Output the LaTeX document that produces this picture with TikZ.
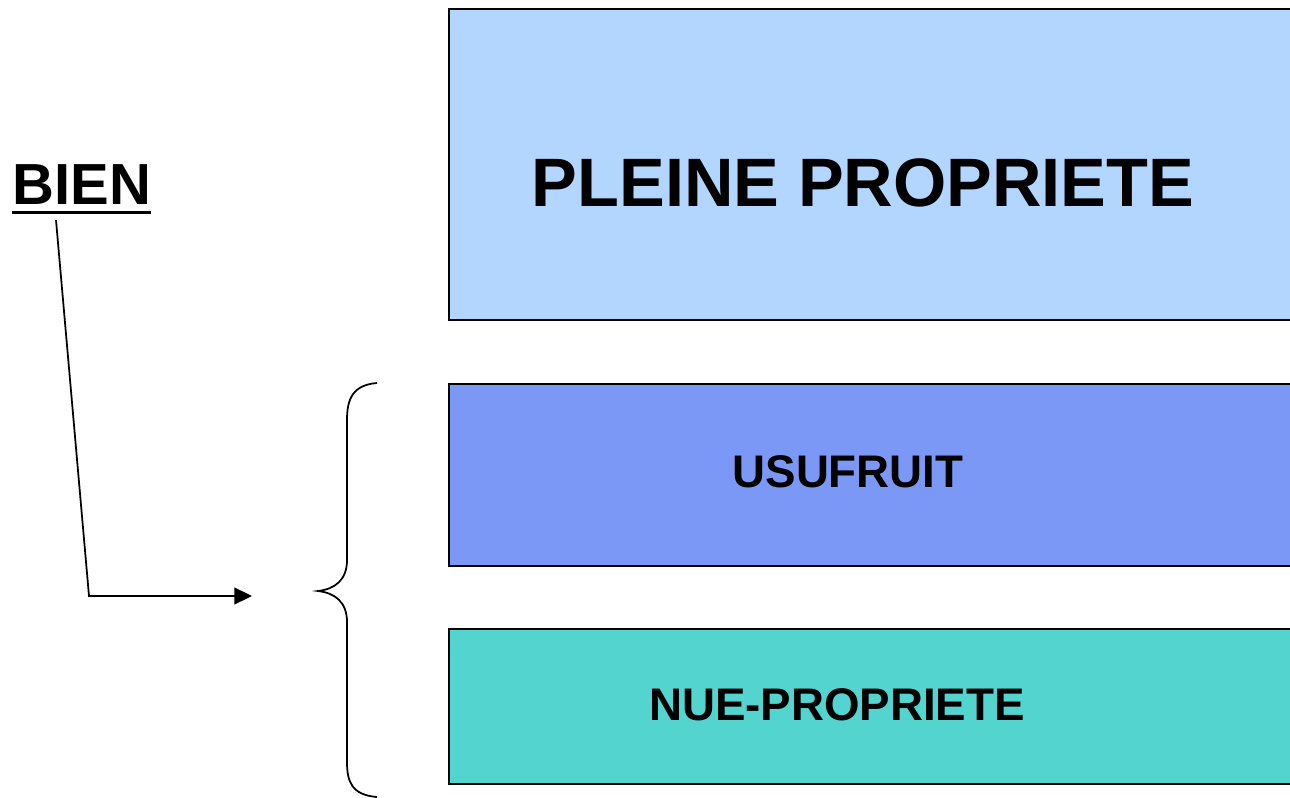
\documentclass[tikz,border=0pt]{standalone}
\usepackage{fontspec}
\setmainfont{Liberation Sans}
\usepackage{tikz}
\usetikzlibrary{positioning}
\usetikzlibrary{arrows.meta}

\definecolor{bleuclair}{RGB}{178,214,255}
\definecolor{bleuvif}{RGB}{124,152,246}
\definecolor{turquoise}{RGB}{84,212,206}

% soulignement epais
\newcommand{\souligne}[1]{\setbox0\hbox{#1}\rlap{\vrule width\wd0 height -3.8pt depth 5.5pt}\box0}

\begin{document}
\begin{tikzpicture}[x=0.02cm, y=-0.02cm,
    bloc/.style={draw, rectangle, line width=1.1pt, anchor=north west, minimum width=17.04cm, inner sep=0pt},
    titre/.style={anchor=base, inner sep=0pt}]
    \useasboundingbox (0,0) rectangle (1290,797);
    \clip (0,0) rectangle (1290,797);

    % Blocs de propriete
    \node (pleine) [bloc, fill=bleuclair, minimum height=6.22cm] at (448,8) {};
    \node (usufruit) [bloc, fill=bleuvif, minimum height=3.64cm] at (448,383) {};
    \node (nue) [bloc, fill=turquoise, minimum height=3.1cm] at (448,628) {};

    % Textes des blocs
    \node (tpleine) [titre, font=\fontsize{39}{47}\selectfont\bfseries] at (863,207) {PLEINE PROPRIETE};
    \node (tusufruit) [titre, font=\fontsize{26}{31}\selectfont\bfseries] at (848,487) {USUFRUIT};
    \node (tnue) [titre, font=\fontsize{26}{31}\selectfont\bfseries] at (837,720) {NUE-PROPRIETE};

    % Le bien
    \node (bien) [anchor=base west, inner sep=0pt, font=\fontsize{33}{40}\selectfont\bfseries] at (12,204)
    {\souligne{BIEN}};

    % Accolade
    \draw[line width=1pt] (377,383) .. controls (352,385) and (347,400) .. (347,420) -- (347,560)
        .. controls (347,580) and (335,589) .. (318,591)
        .. controls (335,593) and (347,602) .. (347,622) -- (347,762)
        .. controls (347,782) and (352,795) .. (377,797);

    % Fleche du bien vers l'accolade
    \coordinate (coude) at (89,596);
    \coordinate (cible) at (252,596);
    \draw[-{Triangle[length=10pt,width=9.5pt]}, line width=1pt] ([shift={(44,16)}]bien.base west) -- (coude) -- (cible);
\end{tikzpicture}
\end{document}
